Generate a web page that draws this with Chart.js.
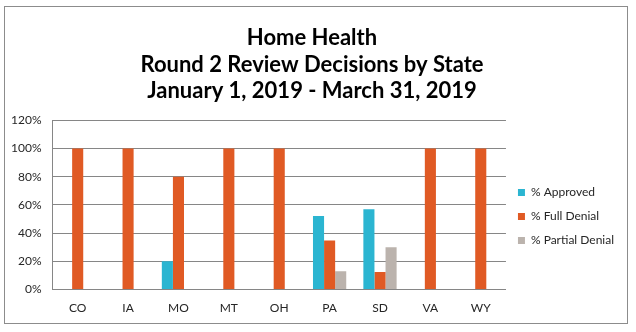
<!DOCTYPE html>
<html>
<head>
<meta charset="utf-8">
<script src="https://cdn.jsdelivr.net/npm/chart.js@4"></script>
<style>
  body { margin: 0; background: #fff; }
  #frame {
    position: absolute; left: 4px; top: 6px;
    width: 622px; height: 316px;
    border: 1px solid #8c8c8c;
  }
</style>
</head>
<body>
<div id="frame"><canvas id="chart" width="622" height="316"></canvas></div>
<script>
// Review decisions per state, in percent
const states = ["CO", "IA", "MO", "MT", "OH", "PA", "SD", "VA", "WY"];
const approved = [0, 0, 20, 0, 0, 52.2, 57, 0, 0];
const fullDenial = [100, 100, 80, 100, 100, 34.8, 12.5, 100, 100];
const partialDenial = [0, 0, 0, 0, 0, 13, 30, 0, 0];
const titleLines = ["Home Health", "Round 2 Review Decisions by State", "January 1, 2019 - March 31, 2019"];

const gridColor = '#868686';
const textColor = '#262626';

let ctx = document.getElementById('chart').getContext('2d');
let chart = new Chart(ctx, {
    type: 'bar',
    data: {
        labels: states,
        datasets: [
            { label: '% Approved', data: approved, backgroundColor: '#2BB5D1' },
            { label: '% Full Denial', data: fullDenial, backgroundColor: '#E05A24' },
            { label: '% Partial Denial', data: partialDenial, backgroundColor: '#BBB3AD' }
        ]
    },
    options: {
        responsive: false,
        animation: false,
        categoryPercentage: 0.66,
        barPercentage: 1,
        layout: { padding: { left: -5, right: 3, top: 8, bottom: -3 } },
        scales: {
            x: {
                grid: { display: false, drawTicks: false },
                border: { display: true, color: gridColor, width: 1 },
                ticks: { color: textColor, font: { family: 'Lato', size: 12 }, padding: 11 }
            },
            y: {
                min: 0,
                max: 120,
                grid: { color: gridColor, drawTicks: false },
                border: { display: true, color: gridColor, width: 1 },
                ticks: {
                    stepSize: 20,
                    color: textColor,
                    padding: 11,
                    font: { family: 'Lato', size: 12 },
                    callback: v => v + '%'
                }
            }
        },
        plugins: {
            title: {
                display: true,
                text: titleLines,
                color: '#000',
                font: { family: 'Lato', size: 22, weight: 'bold', lineHeight: 1.2 },
                padding: { top: 10, bottom: 16 }
            },
            legend: {
                position: 'right',
                // blank legend title pushes the entries down beside the bars
                title: { display: true, text: '', font: { size: 10 }, padding: { top: 40, bottom: 40 } },
                labels: {
                    boxWidth: 7,
                    boxHeight: 7,
                    padding: 12,
                    color: textColor,
                    font: { family: 'Lato', size: 12 }
                }
            },
            tooltip: { enabled: false }
        }
    }
});
</script>
</body>
</html>
